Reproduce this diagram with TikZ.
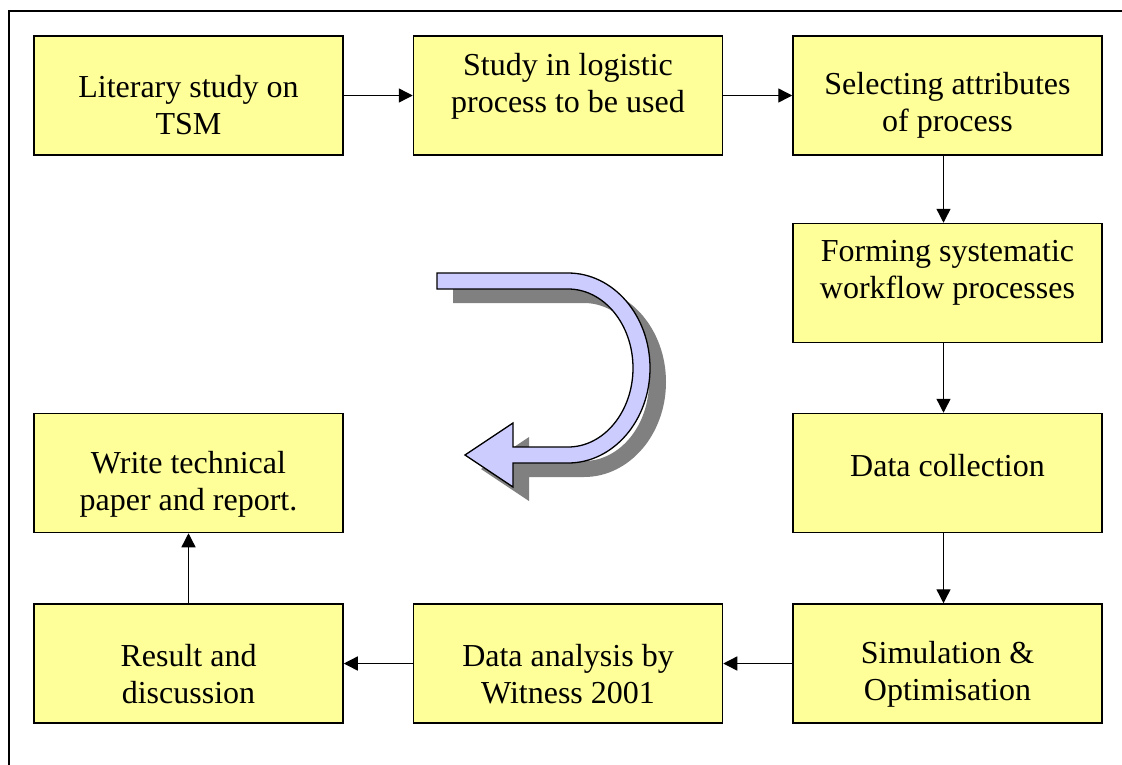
\documentclass[tikz,border=0pt]{standalone}
\usepackage{fontspec}
\setmainfont{Liberation Serif}
\newfontfamily\tnr{Liberation Serif}
\usetikzlibrary{arrows.meta}
\definecolor{boxyellow}{HTML}{FFFF99}
\definecolor{lav}{HTML}{CCCCFF}
\definecolor{shadowgray}{HTML}{808080}
\newcommand{\uturnpath}{(437,273) -- (568,273) .. controls (613.3,273) and (650,315.5) .. (650,368) .. controls (650,420.5) and (613.3,463) .. (568,463) -- (513,463) -- (513,487) -- (465,455) -- (513,423) -- (513,447) -- (568,447) .. controls (603.9,447) and (633,411.6) .. (633,368) .. controls (633,324.4) and (603.9,289) .. (568,289) -- (437,289) -- cycle}
\begin{document}
\begin{tikzpicture}[x=1pt,y=-1pt,
  stepbox/.style={draw=black, line width=1.5pt, fill=boxyellow, minimum width=309pt, minimum height=119pt, inner sep=0pt},
  boxtext/.style={align=center, font=\tnr\fontsize{32}{37}\selectfont, inner sep=0pt},
  conn/.style={line width=1.4pt, -{Triangle[length=14pt,width=14pt]}}]
\useasboundingbox (0,0) rectangle (1122,764);
% outer frame (only top and left edges visible)
\draw[line width=1.5pt] (9,770) -- (9,11) -- (1130,11);
% boxes
\node[stepbox] (b1) at (188.5,95.5) {};
\node[stepbox] (b2) at (568,95.5) {};
\node[stepbox] (b3) at (947.5,95.5) {};
\node[stepbox] (b4) at (947.5,283) {};
\node[stepbox] (b5) at (947.5,473) {};
\node[stepbox] (b6) at (947.5,663.5) {};
\node[stepbox] (b7) at (568,663.5) {};
\node[stepbox] (b8) at (188.5,663.5) {};
\node[stepbox] (b9) at (188.5,473) {};
% texts
\node[boxtext] (t1) at (188.5,105) {Literary study on\\TSM};
\node[boxtext] (t2) at (568,86) {Study in logistic\\process to be used};
\node[boxtext] (t3) at (947.5,105) {Selecting attributes\\of process};
\node[boxtext] (t4) at (947.5,273) {Forming systematic\\workflow processes};
\node[boxtext] (t5) at (947.5,466) {Data collection};
\node[boxtext] (t6) at (947.5,674) {Simulation \&\\Optimisation};
\node[boxtext] (t7) at (568,674) {Data analysis by\\Witness 2001};
\node[boxtext] (t8) at (188.5,674) {Result and\\discussion};
\node[boxtext] (t9) at (188.5,484) {Write technical\\paper and report.};
% connectors
\draw[conn] (b1) -- (b2);
\draw[conn] (b2) -- (b3);
\draw[conn] ([xshift=-4pt]b3.south) -- ([xshift=-4pt]b4.north);
\draw[conn] ([xshift=-4pt]b4.south) -- ([xshift=-4pt]b5.north);
\draw[conn] ([xshift=-4pt]b5.south) -- ([xshift=-4pt]b6.north);
\draw[conn] (b6) -- (b7);
\draw[conn] (b7) -- (b8);
\draw[conn] (b8) -- (b9);
% U-turn block arrow with shadow
\fill[shadowgray, shift={(16,14)}] \uturnpath;
\draw[fill=lav, line width=1.3pt, line join=miter] \uturnpath;
\end{tikzpicture}
\end{document}
